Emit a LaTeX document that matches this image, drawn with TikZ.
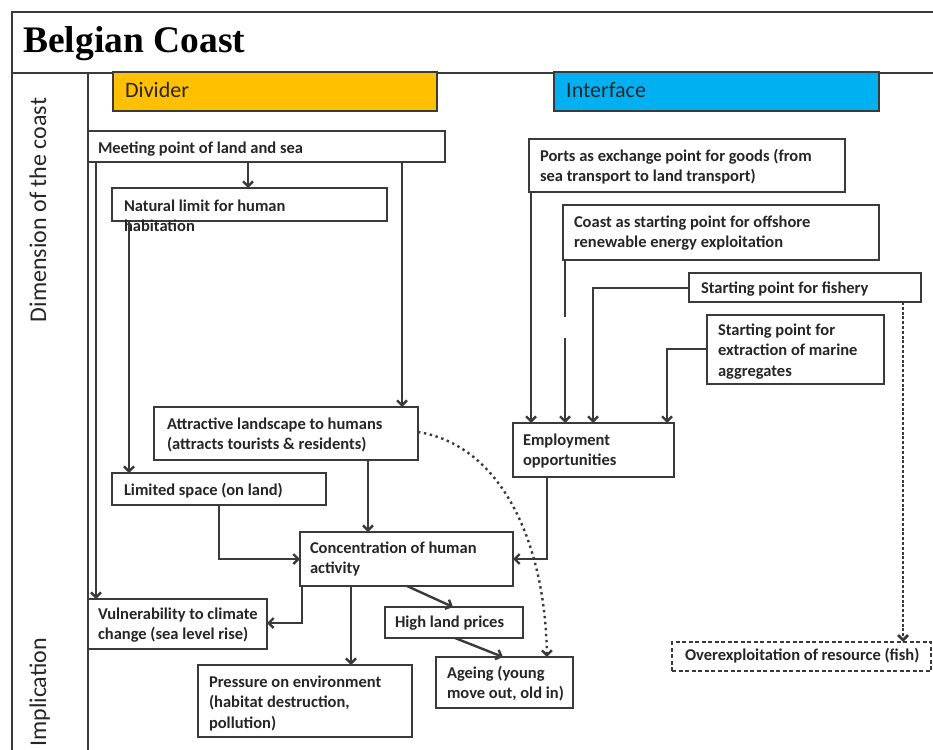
\documentclass[tikz,border=0pt]{standalone}
\usepackage{fontspec}
\setmainfont{Carlito}
\newfontfamily\titlefont{Liberation Serif}
\usetikzlibrary{arrows.meta}
\definecolor{lc}{HTML}{3A3A3A}
\definecolor{divo}{HTML}{FFC000}
\definecolor{intb}{HTML}{00B0F0}
\definecolor{tc}{HTML}{262626}
\newcommand\bx[6]{\node[#6, minimum width={#4-#2}, minimum height={#5-#3}] (#1) at ({(#2+#4)/2},{(#3+#5)/2}) {};}
\newcommand\tx[4]{\node[txt] (#1) at (#2,{#3-14}) {\rule{0pt}{14pt}#4};}
\tikzset{
  boxst/.style={rectangle, draw=lc, line width=2pt, fill=white, inner sep=0pt, outer sep=0pt},
  dashbox/.style={boxst, dash pattern=on 4pt off 2.5pt},
  txt/.style={anchor=north west, inner sep=0pt, outer sep=0pt, align=left, text=tc,
    font=\bfseries\fontsize{16.5}{20.5}\selectfont},
  conn/.style={draw=lc, line width=2.4pt, -{Straight Barb[length=5pt,width=10pt]}},
  dotconn/.style={conn, line width=2.4pt, dash pattern=on 2.4pt off 3.6pt},
  dashconn/.style={conn, line width=2.8pt, dash pattern=on 3pt off 1.8pt},
  frameline/.style={draw=lc, line width=2.2pt},
  headtxt/.style={anchor=base west, inner sep=0pt, text=tc, font=\fontsize{22}{26}\selectfont},
  sidetxt/.style={rotate=90, inner sep=0pt, text=tc, font=\fontsize{24}{28}\selectfont}
}
\begin{document}
\begin{tikzpicture}[x=1pt,y=-1pt]
\useasboundingbox (0,0) rectangle (933,749);
\clip (0,0) rectangle (933,749);
% frame
\draw[frameline] (12,760) -- (12,12) -- (945,12);
\draw[frameline] (12,73) -- (945,73);
\draw[frameline] (88,73) -- (88,760);
\node[anchor=base west, inner sep=0pt, text=black,
  font=\titlefont\bfseries\fontsize{37.5}{40}\selectfont] (title) at (23,53) {Belgian Coast};
\node[sidetxt, anchor=base] (dim) at (46,210) {Dimension of the coast};
\node[sidetxt, anchor=base west] (impl) at (46,747) {Implication};
% headers
\bx{divi}{113}{72}{437}{111}{boxst, fill=divo}
\bx{intf}{554}{72}{879}{111}{boxst, fill=intb}
\node[headtxt] (divt) at (125,98) {Divider};
\node[headtxt] (intt) at (566,98) {Interface};
% boxes
\bx{meet}{88}{131}{445}{162}{boxst}
\bx{natl}{112}{188}{387}{221}{boxst}
\bx{port}{529}{139}{845}{192}{boxst}
\bx{cost}{563}{205}{879}{260}{boxst}
\bx{fish}{689}{273}{921}{302}{boxst}
\bx{extr}{707}{315}{884}{384}{boxst}
\bx{empl}{513}{423}{674}{477}{boxst}
\bx{attr}{154}{407}{418}{460}{boxst}
\bx{limt}{112}{473}{326}{505}{boxst}
\bx{conc}{300}{532}{513}{586}{boxst}
\bx{vuln}{88}{599}{267}{649}{boxst}
\bx{high}{385}{607}{523}{638}{boxst}
\bx{pres}{198}{665}{412}{737}{boxst}
\bx{agei}{436}{657}{573}{708}{boxst}
\bx{over}{672}{642}{931}{671}{dashbox}
% texts
\tx{meett}{98}{153}{Meeting point of land and sea}
\tx{natlt}{124}{211}{Natural limit for human\\habitation}
\tx{portt}{540}{161}{Ports as exchange point for goods (from\\sea transport  to land transport)}
\tx{costt}{574}{227}{Coast as starting point for offshore\\renewable energy exploitation}
\tx{fisht}{701}{293}{Starting point for fishery}
\tx{extrt}{718}{335}{Starting point for\\extraction of marine\\aggregates}
\tx{emplt}{523}{445}{Employment\\opportunities}
\tx{attrt}{167}{429}{Attractive landscape to humans\\(attracts tourists \& residents)}
\tx{limtt}{124}{495}{Limited space (on land)}
\tx{conct}{310}{553}{Concentration  of human\\activity}
\tx{vulnt}{98}{619}{Vulnerability to climate\\change (sea level rise)}
\tx{hight}{395}{627}{High land prices}
\tx{prest}{209}{687}{Pressure on  environment\\(habitat destruction,\\pollution)}
\tx{ageit}{447}{678}{Ageing (young\\move out, old in)}
\tx{overt}{685}{660}{Overexploitation of resource (fish)}
% connectors (left)
\draw[conn] (248,0 |- meet.south) -- (248,0 |- natl.north);
\draw[conn] (402,0 |- meet.south) -- (402,0 |- attr.north);
\draw[conn] (96,0 |- meet.south) -- (96,0 |- vuln.north);
\draw[conn] (129,0 |- natl.south) -- (129,0 |- limt.north);
\draw[conn] (368,0 |- attr.south) -- (368,0 |- conc.north);
\draw[conn] (219,0 |- limt.south) |- (conc.west |- 0,559);
\draw[conn] (547,0 |- empl.south) |- (conc.east |- 0,559);
\draw[conn] (302,0 |- conc.south) |- (vuln.east |- 0,623);
\draw[conn] (351,0 |- conc.south) -- (351,0 |- pres.north);
\draw[conn] (407,0 |- conc.south) -- (453,0 |- high.north);
\draw[conn] (455,0 |- high.south) -- (503,0 |- agei.north);
\draw[dotconn] (attr.east |- 0,432) .. controls (500,445) and (545,540) .. (547,0 |- agei.north);
% connectors (right)
\draw[conn] (531,0 |- port.south) -- (531,0 |- empl.north);
\draw[conn, dash pattern=on 57pt off 21pt on 300pt] (565,0 |- cost.south) -- (565,0 |- empl.north);
\draw[conn] (fish.west |- 0,288) -| (593,0 |- empl.north);
\draw[conn] (extr.west |- 0,349) -| (667,0 |- empl.north);
\draw[dashconn] (903,0 |- fish.south) -- (903,0 |- over.north);
\end{tikzpicture}
\end{document}
